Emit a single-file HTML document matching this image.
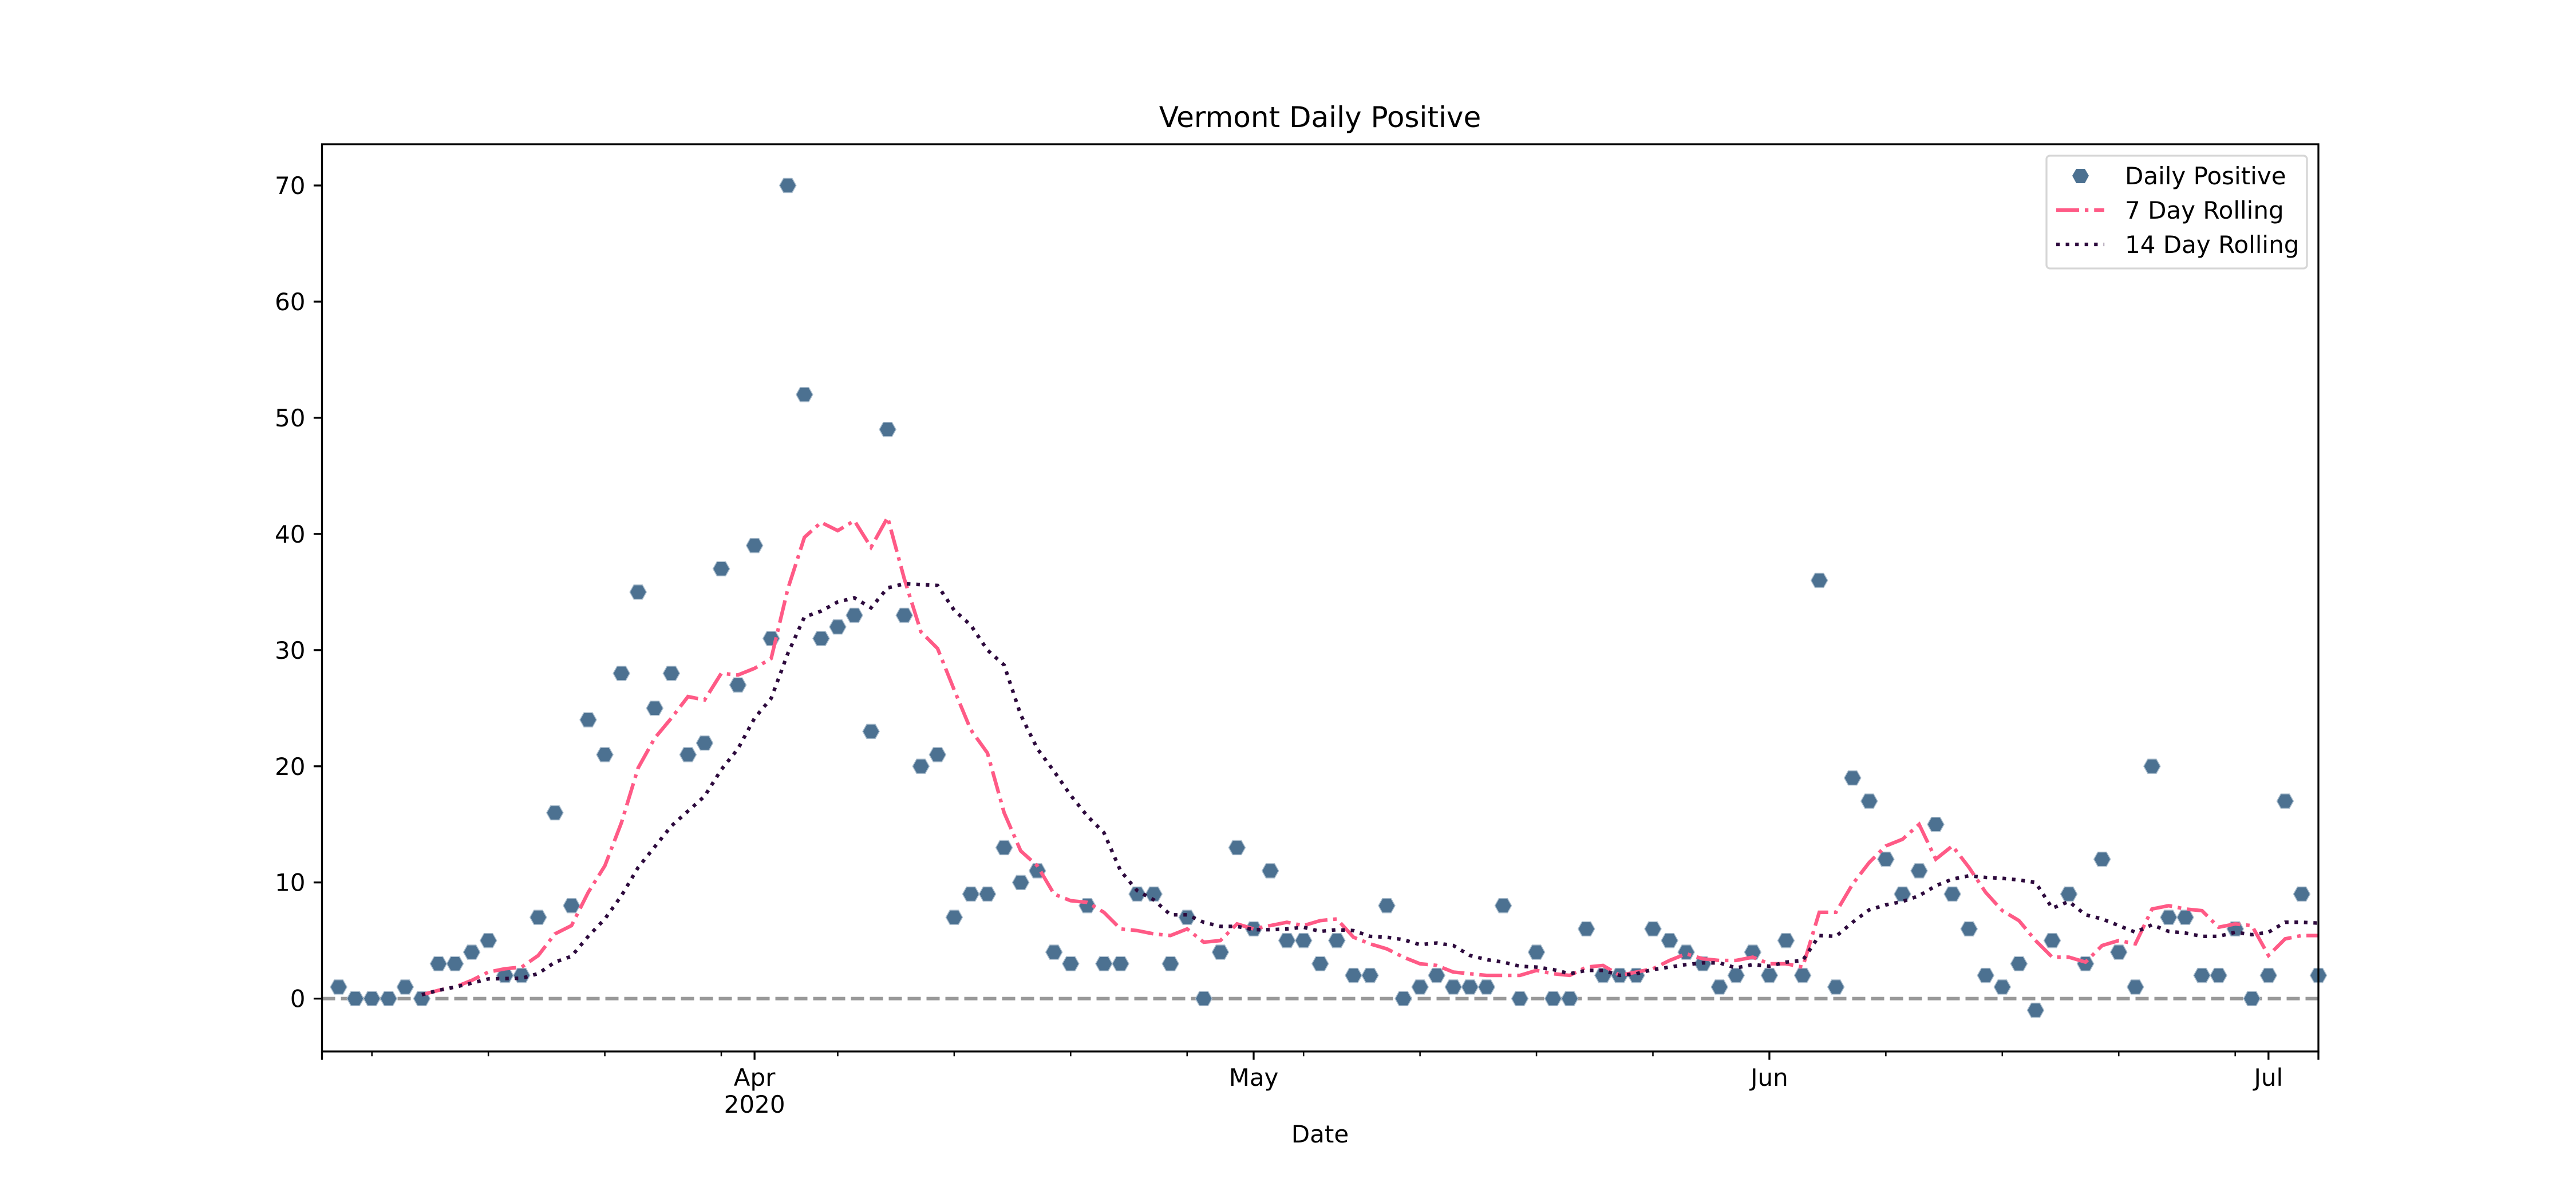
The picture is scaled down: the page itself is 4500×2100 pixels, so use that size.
<!DOCTYPE html>
<html><head><meta charset="utf-8"><style>
html,body{margin:0;padding:0;background:#fff;}
svg{display:block;font-family:"DejaVu Sans","Liberation Sans",sans-serif;}
</style></head><body>
<svg id="chart" width="4500" height="2100" viewBox="0 0 4500 2100" xmlns="http://www.w3.org/2000/svg">
<rect width="4500" height="2100" fill="#fff"/>
<text x="2306" y="222" font-size="50" text-anchor="middle">Vermont Daily Positive</text>
<text x="2306" y="1996" font-size="42" text-anchor="middle">Date</text>
<g id="grid"></g>
<g id="marks"></g>
<rect x="562.5" y="252" width="3487.5" height="1585" fill="none" stroke="#000" stroke-width="3.3"/>
<g id="ticks"></g>
<g>
<rect x="3575" y="272" width="455" height="197" rx="6" fill="#fff" fill-opacity="0.8" stroke="#d6d6d6" stroke-width="3.3"/>
<polygon points="3627,295 3642,295 3649,307 3642,320 3627,320 3620,307" fill="#4c7191"/>
<text x="3712" y="322" font-size="42">Daily Positive</text>
<line x1="3592" y1="367" x2="3676" y2="367" stroke="#ff5a86" stroke-width="6.25" stroke-dasharray="40,10,6.25,10"/>
<text x="3712" y="382" font-size="42">7 Day Rolling</text>
<line x1="3592" y1="427" x2="3676" y2="427" stroke="#2d0a3d" stroke-width="6.25" stroke-dasharray="6.25,10.3"/>
<text x="3712" y="442" font-size="42">14 Day Rolling</text>
</g>
</svg>
<script>
// Daily values Mar 7 .. Jul 4, 2020 (day index 1..120, Mar 6 = 0)
const dailyPositive = [1,0,0,0,1,0,3,3,4,5,2,2,7,16,8,24,21,28,35,25,28,21,22,37,27,39,31,70,52,31,32,33,23,49,33,20,21,7,9,9,13,10,11,4,3,8,3,3,9,9,3,7,0,4,13,6,11,5,5,3,5,2,2,8,0,1,2,1,1,1,8,0,4,0,0,6,2,2,2,6,5,4,3,1,2,4,2,5,2,36,1,19,17,12,9,11,15,9,6,2,1,3,-1,5,9,3,12,4,1,20,7,7,2,2,6,0,2,17,9,2];
const startDay = 1;
const yTicks = [0,10,20,30,40,50,60,70];
const monthTicks = [{d:26,l1:"Apr",l2:"2020"},{d:56,l1:"May",l2:""},{d:87,l1:"Jun",l2:""},{d:117,l1:"Jul",l2:""}];
const weekTicks = [3,10,17,24,31,38,45,52,59,66,73,80,94,101,108,115];
const edgeTicks = [0,120];
const xMin=0,xMax=120,yMin=-4.55,yMax=73.55;
const L=562.5,R=4050,T=252,B=1837;
function X(d){return L+(d-xMin)/(xMax-xMin)*(R-L);}
function Y(v){return B-(v-yMin)/(yMax-yMin)*(B-T);}
const NS="http://www.w3.org/2000/svg";
function mk(tag,attrs,parent){const e=document.createElementNS(NS,tag);for(const k in attrs)e.setAttribute(k,attrs[k]);parent.appendChild(e);return e;}
const marks=document.getElementById('marks'),ticks=document.getElementById('ticks'),grid=document.getElementById('grid');
const z=mk('line',{x1:L,x2:R,y1:Y(0),y2:Y(0),stroke:'#999',"stroke-width":6,"stroke-dasharray":"23,10"},grid);


function rolling(w){const out=[];for(let i=5;i<dailyPositive.length;i++){let s=0,n=0;for(let j=Math.max(0,i-w+1);j<=i;j++){s+=dailyPositive[j];n++;}out.push([startDay+i,s/n]);}return out;}
function path(pts){return pts.map((p,i)=>(i?'L':'M')+X(p[0]).toFixed(1)+','+Y(p[1]).toFixed(1)).join('');}
dailyPositive.forEach((v,i)=>{const cx=X(startDay+i),cy=Y(v);
const pts=[[cx-7.5,cy-12.5],[cx+7.5,cy-12.5],[cx+14.5,cy],[cx+7.5,cy+12.5],[cx-7.5,cy+12.5],[cx-14.5,cy]].map(p=>p.join(',')).join(' ');
const p=mk('polygon',{points:pts,fill:'#4c7191',stroke:'#a9bccc',"stroke-width":1.5},marks);


});
const l7=mk('path',{d:path(rolling(7)),fill:'none',stroke:'#ff5a86',"stroke-width":6.25,"stroke-dasharray":"40,10,6.25,10"},marks);


const l14=mk('path',{d:path(rolling(14)),fill:'none',stroke:'#2d0a3d',"stroke-width":6.25,"stroke-dasharray":"6.25,10.3"},marks);


yTicks.forEach(v=>{const y=Y(v);
mk('line',{x1:L-14.6,x2:L,y1:y,y2:y,stroke:'#000',"stroke-width":3.3},ticks);
const t=mk('text',{x:L-29,y:y+15,"font-size":42,"text-anchor":"end"},ticks);t.textContent=v;


});
weekTicks.forEach(d=>{mk('line',{x1:X(d),x2:X(d),y1:B,y2:B+8.3,stroke:'#000',"stroke-width":2.5},ticks);});
edgeTicks.forEach(d=>{mk('line',{x1:X(d),x2:X(d),y1:B,y2:B+14.6,stroke:'#000',"stroke-width":3.3},ticks);});
monthTicks.forEach(m=>{const x=X(m.d);
mk('line',{x1:x,x2:x,y1:B,y2:B+14.6,stroke:'#000',"stroke-width":3.3},ticks);
const t=mk('text',{x:x,y:B+60,"font-size":42,"text-anchor":"middle"},ticks);t.textContent=m.l1;


if(m.l2){const t2=mk('text',{x:x,y:B+107,"font-size":42,"text-anchor":"middle"},ticks);t2.textContent=m.l2;

}
});
</script>
</body></html>
